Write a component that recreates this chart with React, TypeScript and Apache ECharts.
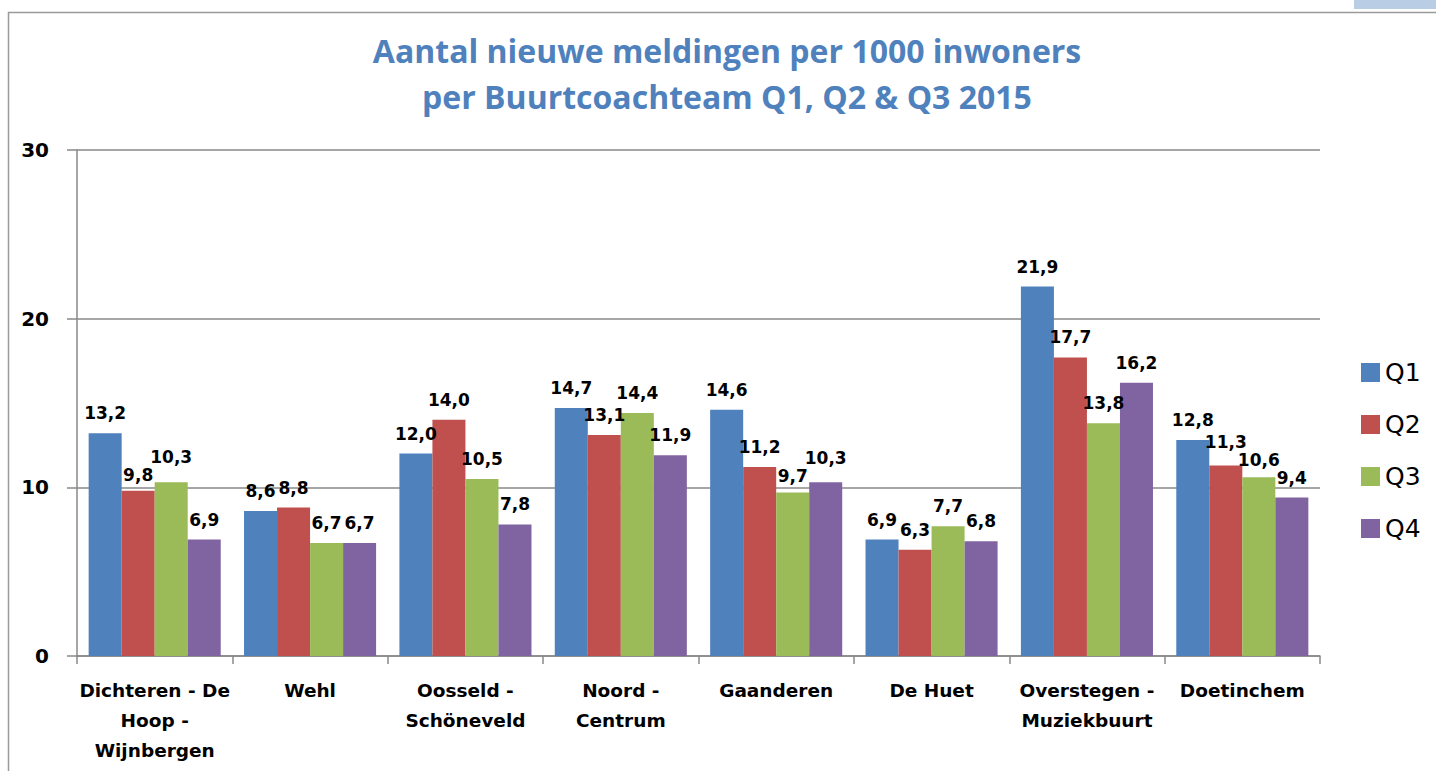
import React, { useEffect, useRef } from "react";
import * as echarts from "echarts";

const categories = [
  "Dichteren - De\nHoop -\nWijnbergen",
  "Wehl",
  "Oosseld -\nSchöneveld",
  "Noord -\nCentrum",
  "Gaanderen",
  "De Huet",
  "Overstegen -\nMuziekbuurt",
  "Doetinchem",
];
const seriesNames = ["Q1", "Q2", "Q3", "Q4"];
const q1 = [13.2, 8.6, 12.0, 14.7, 14.6, 6.9, 21.9, 12.8];
const q2 = [9.8, 8.8, 14.0, 13.1, 11.2, 6.3, 17.7, 11.3];
const q3 = [10.3, 6.7, 10.5, 14.4, 9.7, 7.7, 13.8, 10.6];
const q4 = [6.9, 6.7, 7.8, 11.9, 10.3, 6.8, 16.2, 9.4];
const seriesValues = [q1, q2, q3, q4];
const colors = ["#4F81BD", "#C0504D", "#9BBB59", "#8064A2"];
const titleText = "Aantal nieuwe meldingen per 1000 inwoners\nper Buurtcoachteam Q1, Q2 & Q3 2015";

const fmt = (v: number) => v.toFixed(1).replace(".", ",");

export default function App() {
  const ref = useRef<HTMLDivElement>(null);
  useEffect(() => {
    if (!ref.current) return;
    const chart = echarts.init(ref.current, null, { renderer: "svg" });
    const wide = "'DejaVu Sans', sans-serif";
    const titleFont = "'Open Sans', sans-serif";
    const LFS = 17;
    const LH = 18;
    const DIST = 11;
    const estWidth = (v: number) => {
      const s = fmt(v);
      const digits = s.length - 1;
      return (digits * 0.696 + 0.38) * LFS;
    };

    // compute adjusted label centres for one category, to separate overlapping labels
    const layoutCategory = (di: number, zeroY: number, pxPerUnit: number, barW: number) => {
      const n = seriesValues.length;
      const top = seriesValues.map((s) => zeroY - s[di] * pxPerUnit);
      const nat = top.map((t) => t - DIST - LH / 2);
      const pos = nat.slice();
      for (let s = 1; s < n; s++) {
        const hOver = (estWidth(seriesValues[s][di]) + estWidth(seriesValues[s - 1][di])) / 2 > barW + 1;
        const gap = Math.abs(pos[s] - pos[s - 1]);
        if (!hOver || gap >= LH) continue;
        const need = LH - gap;
        if (pos[s] >= pos[s - 1]) {
          const room = Math.max(0, top[s] - 2 - (pos[s] + LH / 2));
          const down = Math.min(need / 2, room);
          pos[s] += down;
          pos[s - 1] -= need - down;
        } else {
          const room = Math.max(0, top[s - 1] - 2 - (pos[s - 1] + LH / 2));
          const down = Math.min(need / 2, room);
          pos[s - 1] += down;
          pos[s] -= need - down;
        }
      }
      return { nat, pos };
    };

    chart.setOption({
      animation: false,
      backgroundColor: "#ffffff",
      title: {
        text: titleText,
        left: 722,
        top: 22,
        textAlign: "center",
        textStyle: {
          color: "#4F81BD",
          fontFamily: titleFont,
          fontWeight: "bold",
          fontSize: 32,
          lineHeight: 46,
        },
      },
      legend: {
        orient: "vertical",
        left: 1356,
        top: 355,
        itemWidth: 19,
        itemHeight: 19,
        itemGap: 27,
        icon: "rect",
        data: seriesNames,
        textStyle: { fontFamily: wide, fontSize: 25, color: "#000" },
      },
      graphic: [
        {
          type: "rect",
          shape: { x: 8.5, y: 12.5, width: 1440, height: 800 },
          style: { fill: "none", stroke: "#9a9a9a", lineWidth: 1.5 },
          silent: true,
        },
        {
          type: "rect",
          shape: { x: 1354, y: 0, width: 82, height: 9 },
          style: { fill: "#B9CDE5" },
          silent: true,
        },
      ],
      grid: { left: 77, right: 116, top: 150, bottom: 115, containLabel: false },
      xAxis: {
        type: "category",
        data: categories,
        axisLine: { show: true, lineStyle: { color: "#888", width: 1.5 } },
        axisTick: { show: true, length: 8, interval: 0, lineStyle: { color: "#888", width: 1.5 } },
        axisLabel: {
          interval: 0,
          margin: 19,
          color: "#000",
          fontFamily: wide,
          fontWeight: "bold",
          fontSize: 18.5,
          lineHeight: 30,
        },
      },
      yAxis: {
        type: "value",
        min: 0,
        max: 30,
        interval: 10,
        axisLine: { show: true, lineStyle: { color: "#888", width: 1.5 } },
        axisTick: { show: true, length: 10, lineStyle: { color: "#888", width: 1.5 } },
        splitLine: { show: true, lineStyle: { color: "#888", width: 1.5 } },
        axisLabel: {
          margin: 28,
          color: "#000",
          fontFamily: wide,
          fontWeight: "bold",
          fontSize: 20,
        },
      },
      series: seriesNames.map((name, i) => ({
        name,
        type: "bar",
        data: seriesValues[i],
        barGap: "0%",
        barCategoryGap: "15%",
        itemStyle: { color: colors[i] },
        label: {
          show: true,
          position: "top",
          distance: DIST,
          color: "#000",
          fontFamily: wide,
          fontWeight: "bold",
          fontSize: LFS,
          lineHeight: LH,
          formatter: (p: any) => fmt(p.value),
        },
        labelLayout: (params: any) => {
          const si = params.seriesIndex;
          const di = params.dataIndex;
          const r = params.rect;
          const v = seriesValues[si][di];
          if (!r || !v) return {};
          const zeroY = r.y + r.height;
          const pxPerUnit = r.height / v;
          const { nat, pos } = layoutCategory(di, zeroY, pxPerUnit, r.width);
          return { dy: pos[si] - nat[si] };
        },
      })),
    });
    return () => chart.dispose();
  }, []);
  return (
    <div
      ref={ref}
      style={{ position: "fixed", left: 0, top: 0, width: 1436, height: 771 }}
    />
  );
}
